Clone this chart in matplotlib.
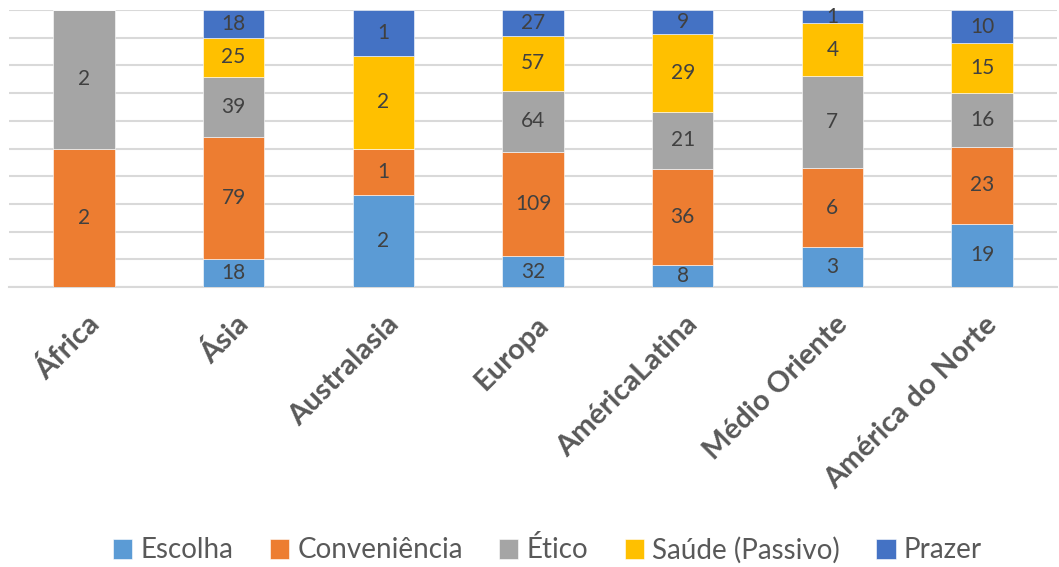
import numpy as np
import matplotlib
matplotlib.use("Agg")
import matplotlib.pyplot as plt

regions = ["África", "Ásia", "Australasia", "Europa", "AméricaLatina",
           "Médio Oriente", "América do Norte"]
series_names = ["Escolha", "Conveniência", "Ético", "Saúde (Passivo)", "Prazer"]
escolha = [0, 18, 2, 32, 8, 3, 19]
conveniencia = [2, 79, 1, 109, 36, 6, 23]
etico = [2, 39, 0, 64, 21, 7, 16]
saude = [0, 25, 2, 57, 29, 4, 15]
prazer = [0, 18, 1, 27, 9, 1, 10]
colors = ["#5B9BD5", "#ED7D31", "#A5A5A5", "#FFC000", "#4472C4"]

plt.rcParams['font.family'] = ['Lato', 'DejaVu Sans']

data = np.array([escolha, conveniencia, etico, saude, prazer], dtype=float)
totals = data.sum(axis=0)
shares = data / totals

fig = plt.figure(figsize=(10.59, 5.67), dpi=100)
ax = fig.add_axes([9 / 1059, 1 - 287 / 567, 1048 / 1059, 277 / 567])

x = np.arange(len(regions))
bottom = np.zeros(len(regions))
for i, name in enumerate(series_names):
    bars = ax.bar(x, shares[i], 0.41, bottom=bottom, color=colors[i],
                  edgecolor="white", linewidth=0.4, label=name, zorder=3)
    for j, b in enumerate(bars):
        if data[i, j] > 0:
            ax.text(b.get_x() + b.get_width() / 2, bottom[j] + shares[i, j] / 2,
                    f"{int(data[i, j])}", ha="center", va="center",
                    fontsize=15, color="#404040", zorder=4)
    bottom += shares[i]

ax.set_xlim(-0.5, len(regions) - 0.5)
ax.set_ylim(0, 1)
ax.set_yticks(np.linspace(0, 1, 11))
ax.yaxis.grid(True, color="#D9D9D9", linewidth=1.5, zorder=0)
ax.tick_params(axis="y", left=False, labelleft=False)
ax.tick_params(axis="x", bottom=False, pad=0)
for s in ["top", "right", "left"]:
    ax.spines[s].set_visible(False)
ax.spines["bottom"].set_color("#D9D9D9")
ax.spines["bottom"].set_linewidth(1.5)

ax.set_xticks(x)
ax.set_xticklabels([])
for xi, lab in zip(x, regions):
    ax.annotate(lab, xy=(xi, 0), xycoords=("data", "axes fraction"),
                xytext=(8, -24), textcoords="offset points",
                rotation=45, ha="right", va="center", rotation_mode="anchor",
                fontsize=21, fontweight="bold", color="#595959")

fig.legend(loc="center", bbox_to_anchor=(0.517, 1 - 550 / 567), ncol=5,
           frameon=False, fontsize=20, labelcolor="#595959",
           handlelength=0.7, handleheight=0.7, handletextpad=0.3,
           columnspacing=1.3)

fig.savefig("out.png", dpi=100)
